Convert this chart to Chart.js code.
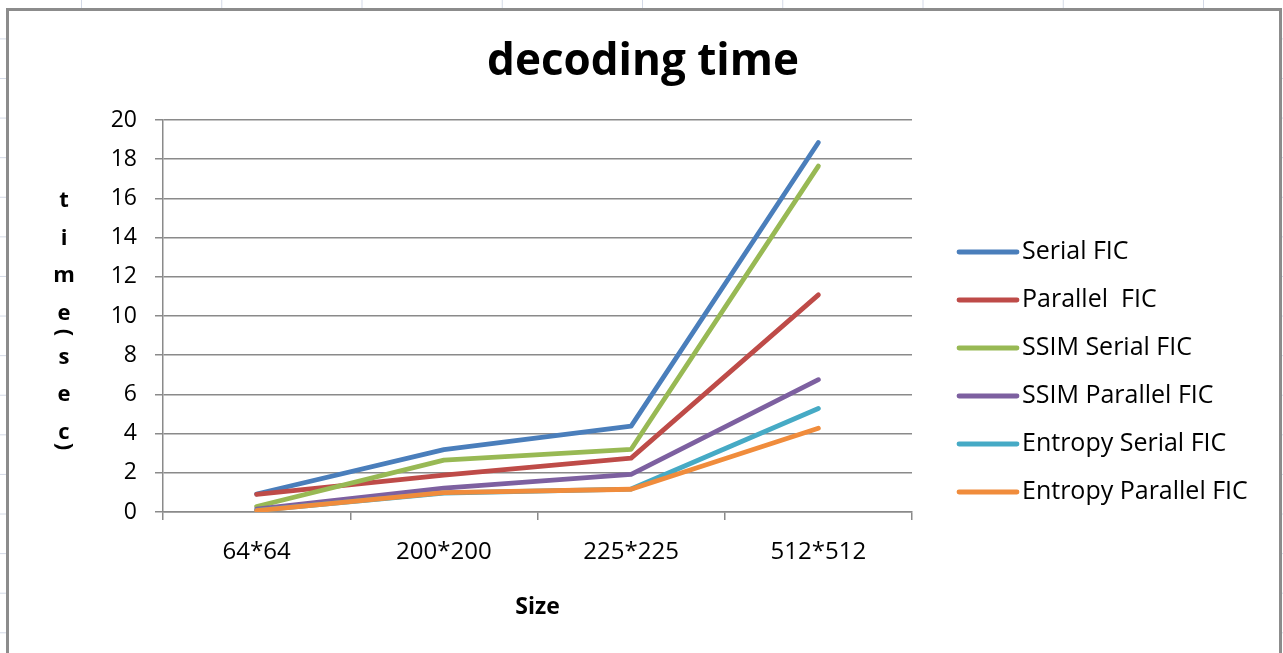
<!DOCTYPE html>
<html>
<head>
<meta charset="utf-8">
<title>decoding time</title>
<script src="https://cdn.jsdelivr.net/npm/chart.js@4/dist/chart.umd.min.js"></script>
<style>
  html, body { margin: 0; padding: 0; width: 1283px; height: 653px; overflow: hidden; background: #fff; }
  /* worksheet cell grid behind the chart object */
  #sheet {
    position: absolute; left: 0; top: 0; width: 1283px; height: 653px;
    background-image:
      linear-gradient(to right, #d3d9e6 1px, transparent 1px),
      linear-gradient(to bottom, #d3d9e6 1px, transparent 1px);
    background-size: 140.25px 100%, 100% 39.6px;
    background-position: 81px 0, 0 38.4px;
  }
  /* chart object border */
  #frame {
    position: absolute; left: 6px; top: 8px; width: 1270px; height: 720px;
    border: 3px solid #8c8c8c; background: #fff;
  }
  #c { position: absolute; left: 0; top: 0; }
</style>
</head>
<body>
<div id="sheet"></div>
<div id="frame"></div>
<canvas id="c" width="1283" height="653"></canvas>
<script>
// Image sizes on the category axis
const sizes = ['64*64', '200*200', '225*225', '512*512'];

// Decoding time (sec) per method
const serialFIC          = [0.92, 3.18, 4.38, 18.85];
const parallelFIC        = [0.90, 1.88, 2.75, 11.08];
const ssimSerialFIC      = [0.28, 2.65, 3.20, 17.65];
const ssimParallelFIC    = [0.14, 1.22, 1.92, 6.75];
const entropySerialFIC   = [0.08, 0.97, 1.17, 5.28];
const entropyParallelFIC = [0.07, 0.99, 1.16, 4.27];

// Value axis ticks
const yTicks = [0, 2, 4, 6, 8, 10, 12, 14, 16, 18, 20];

const seriesNames  = ['Serial FIC', 'Parallel  FIC', 'SSIM Serial FIC', 'SSIM Parallel FIC', 'Entropy Serial FIC', 'Entropy Parallel FIC'];
const seriesValues = [serialFIC, parallelFIC, ssimSerialFIC, ssimParallelFIC, entropySerialFIC, entropyParallelFIC];
const seriesColors = ['#4A7EBB', '#BE4B48', '#98B954', '#7D60A0', '#46AAC5', '#F08C3C'];

const chartTitle = 'decoding time';
const FONT = "'Open Sans', 'Liberation Sans', sans-serif";
const LINE_W = 4.8;

// Chart title, centred on the whole chart object (plot + legend)
const objectTitle = {
  id: 'objectTitle',
  afterDraw(chart) {
    const ctx = chart.ctx;
    ctx.save();
    ctx.fillStyle = '#000';
    ctx.font = 'bold 44px ' + FONT;
    ctx.textAlign = 'center';
    ctx.textBaseline = 'alphabetic';
    ctx.fillText(chartTitle, 643, 75);
    ctx.restore();
  }
};

// Stacked vertical axis title: "time(sec)", letters upright, brackets turned
const yTitleText = 'time(sec)';
const stackedYTitle = {
  id: 'stackedYTitle',
  afterDraw(chart) {
    const ctx = chart.ctx;
    ctx.save();
    ctx.fillStyle = '#000';
    ctx.font = 'bold 22px ' + FONT;
    ctx.textAlign = 'center';
    ctx.textBaseline = 'middle';
    const x = 64;
    let y = 201;
    let prevBracket = false;
    for (let i = 0; i < yTitleText.length; i++) {
      const ch = yTitleText[i];
      const isBracket = ch === '(' || ch === ')';
      if (i > 0) {
        if (isBracket) y += (ch === '(' ? 19 : 14);
        else y += prevBracket ? 25 : 37.5;
      }
      if (isBracket) {
        ctx.save();
        ctx.translate(x, y);
        ctx.rotate(Math.PI / 2);
        ctx.fillText(ch, 0, 0);
        ctx.restore();
      } else {
        ctx.fillText(ch, x, y);
      }
      prevBracket = isBracket;
    }
    ctx.restore();
  }
};

// Legend at the right: line sample then series name
const sideLegend = {
  id: 'sideLegend',
  afterDraw(chart) {
    const ctx = chart.ctx;
    ctx.save();
    ctx.font = '25px ' + FONT;
    ctx.textAlign = 'left';
    ctx.textBaseline = 'middle';
    chart.data.datasets.forEach((ds, i) => {
      const y = 252 + i * 48;
      ctx.strokeStyle = ds.borderColor;
      ctx.lineWidth = LINE_W;
      ctx.lineCap = 'round';
      ctx.beginPath();
      ctx.moveTo(959, y);
      ctx.lineTo(1017, y);
      ctx.stroke();
      ctx.fillStyle = '#000';
      ctx.fillText(ds.label, 1022, y);
    });
    ctx.restore();
  }
};

new Chart(document.getElementById('c'), {
  type: 'line',
  data: {
    labels: sizes,
    datasets: seriesNames.map((name, i) => ({
      label: name,
      data: seriesValues[i],
      borderColor: seriesColors[i],
      backgroundColor: seriesColors[i],
      borderWidth: LINE_W,
      borderCapStyle: 'round',
      borderJoinStyle: 'round',
      pointRadius: 0,
      pointHoverRadius: 0,
      tension: 0,
      fill: false,
      order: seriesNames.length - i
    }))
  },
  options: {
    responsive: false,
    animation: false,
    devicePixelRatio: 1,
    layout: { padding: { left: 0, right: 371, top: 120, bottom: 0 } },
    plugins: {
      legend: { display: false },
      tooltip: { enabled: false },
      title: { display: false }
    },
    scales: {
      x: {
        type: 'category',
        offset: true,
        afterFit(scale) { scale.height = 141; },
        grid: {
          offset: true,
          drawOnChartArea: false,
          drawTicks: true,
          tickLength: 8,
          color: '#8a8a8a',
          lineWidth: 1.5
        },
        border: { display: true, color: '#8a8a8a', width: 1.5 },
        ticks: {
          color: '#000',
          font: { family: FONT, size: 24 },
          padding: 18,
          maxRotation: 0
        },
        title: {
          display: true,
          text: 'Size',
          color: '#000',
          font: { family: FONT, size: 23, weight: 'bold' },
          padding: { top: 0, bottom: 32 }
        }
      },
      y: {
        min: yTicks[0],
        max: yTicks[yTicks.length - 1],
        afterFit(scale) { scale.width = 163; },
        afterBuildTicks(scale) { scale.ticks = yTicks.map(v => ({ value: v })); },
        grid: {
          color: '#8a8a8a',
          lineWidth: 1.5,
          drawTicks: true,
          tickLength: 8
        },
        border: { display: true, color: '#8a8a8a', width: 1.5 },
        ticks: {
          color: '#000',
          font: { family: FONT, size: 23 },
          padding: 18
        }
      }
    }
  },
  plugins: [objectTitle, stackedYTitle, sideLegend]
});
</script>
</body>
</html>
